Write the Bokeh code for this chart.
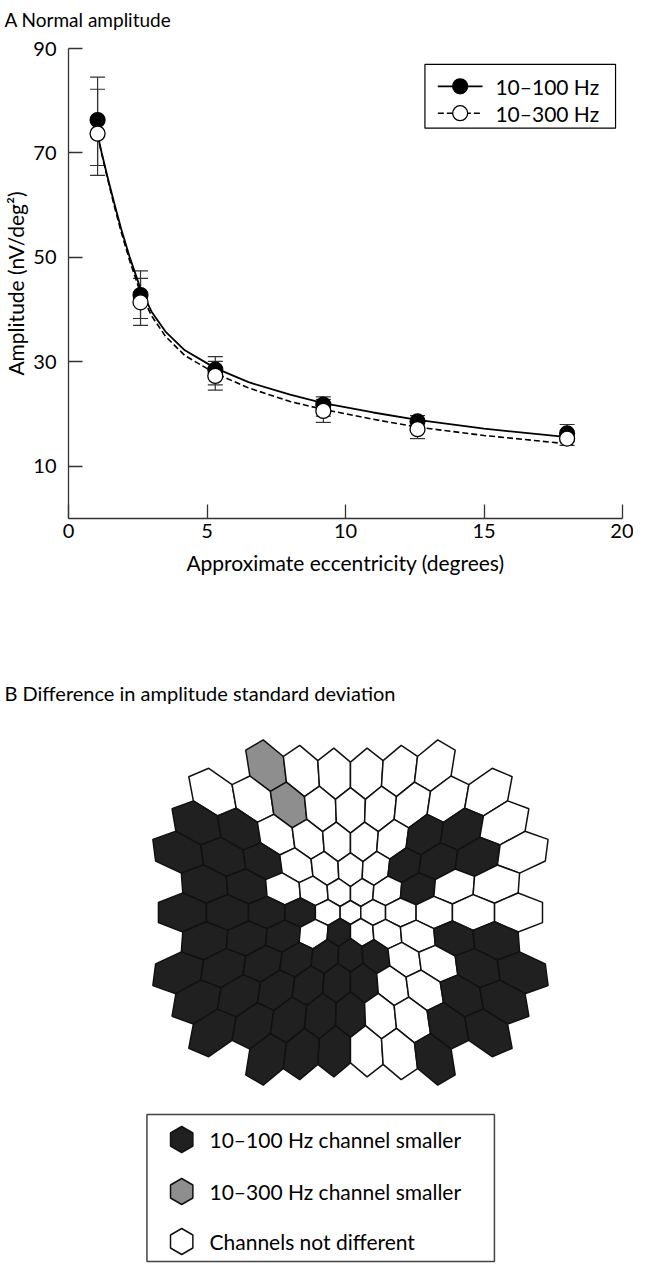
import numpy as np
from bokeh.plotting import figure
from bokeh.models import Range1d, FixedTicker, ColumnDataSource, Title
from bokeh.layouts import column
from bokeh.core.properties import value
from bokeh.embed import file_html
from bokeh.resources import INLINE

FONT = "Lato"

# ---------------- data: panel A ----------------
ecc = [1.05, 2.6, 5.3, 9.2, 12.6, 18.0]
amp_100 = [76.3, 42.8, 28.5, 21.8, 18.6, 16.3]
amp_100_hi = [84.5, 47.4, 31.0, 23.3, 19.7, 18.0]
amp_100_lo = [67.6, 38.3, 25.6, 19.6, 17.5, 14.8]
amp_300 = [73.7, 41.4, 27.3, 20.6, 17.1, 15.3]
amp_300_hi = [82.2, 46.0, 30.1, 22.8, 19.1, 16.8]
amp_300_lo = [65.7, 37.0, 24.6, 18.4, 15.3, 14.0]

fit_ecc = [1.05, 1.2, 1.4, 1.65, 1.9, 2.2, 2.6, 3.0, 3.5, 4.2, 5.3, 6.5, 8.0, 9.2, 11.0, 12.6, 15.0, 18.2]
fit_100 = [73.5, 70.0, 65.6, 60.4, 55.5, 50.2, 44.0, 39.6, 35.8, 32.2, 28.8, 26.1, 23.7, 22.1, 20.3, 18.9, 17.2, 15.5]
fit_300 = [73.3, 69.8, 65.3, 59.9, 54.9, 49.5, 43.2, 38.8, 34.9, 31.2, 27.8, 25.0, 22.4, 20.9, 19.0, 17.5, 15.9, 14.2]

x_ticks = [0, 5, 10, 15, 20]
y_ticks = [10, 30, 50, 70, 90]
series_labels = ["10\u2013100 Hz", "10\u2013300 Hz"]

# ---------------- data: panel B ----------------
hex_row_index = [-5, -4, -3, -2, -1, 0, 1, 2, 3, 4, 5]
hex_row_counts = [6, 9, 10, 11, 10, 11, 10, 11, 10, 9, 6]
hex_row_classes = [
    "GWWWWW",
    "WWGWWWWWW",
    "DDWWWWWDDW",
    "DDDWWWWDDDW",
    "DDWWWWWDWW",
    "DDDDWWWWWWW",
    "DDDWDWWWDD",
    "DDDDDDDWWDD",
    "DDDDDDWWDD",
    "DDDDDWWDD",
    "DDDWWD",
]
class_keys = ["D", "G", "W"]
class_labels = ["10\u2013100 Hz channel smaller", "10\u2013300 Hz channel smaller", "Channels not different"]

# ---------------- styles / layout constants ----------------
CLASS_COLORS = {"D": "#202020", "G": "#8e8e8e", "W": "#ffffff"}
AX = "#333333"
W = 633
H_A, H_B = 632, 632
BL, BR = 64, 11                 # shared left/right borders (frames align in a column)
A_TOP, A_BOT = 46, 114
B_TOP = 77
FW = W - BL - BR                # frame width in px
FH = H_A - A_TOP - A_BOT        # frame height in px
X0, X1, Y0, Y1 = 0, 20, 0, 90


def fx(px):
    return X0 + px * (X1 - X0) / FW


def fy(py):
    return Y1 - py * (Y1 - Y0) / FH


def title(text, size):
    return Title(text=text, align="left", offset=-BL, text_font=FONT, text_font_size=size,
                 text_font_style="normal", text_color="black")


# ================= Panel A =================
pA = figure(width=W, height=H_A, x_range=Range1d(X0, X1), y_range=Range1d(Y0, Y1),
            output_backend="svg", toolbar_location=None,
            min_border_left=BL, min_border_right=BR, min_border_top=A_TOP, min_border_bottom=A_BOT)
pA.outline_line_color = None
pA.xgrid.visible = False
pA.ygrid.visible = False
pA.add_layout(Title(text=" ", text_font_size="1px"), "above")      # small spacer below the title
pA.add_layout(title("A Normal amplitude", "19px"), "above")

pA.xaxis.ticker = FixedTicker(ticks=x_ticks)
pA.yaxis.ticker = FixedTicker(ticks=y_ticks)
pA.xaxis.axis_label = "Approximate eccentricity (degrees)"
pA.yaxis.axis_label = "Amplitude (nV/deg\u00b2)"
for ax in (pA.xaxis[0], pA.yaxis[0]):
    ax.major_tick_in = 14
    ax.major_tick_out = 0
    ax.minor_tick_line_color = None
    ax.axis_line_color = AX
    ax.axis_line_width = 1.3
    ax.major_tick_line_color = AX
    ax.major_tick_line_width = 1.3
    ax.major_label_text_font = FONT
    ax.major_label_text_font_size = "20px"
    ax.major_label_text_color = "black"
    ax.axis_label_text_font = FONT
    ax.axis_label_text_font_size = "21px"
    ax.axis_label_text_font_style = "normal"
    ax.axis_label_text_color = "black"
pA.xaxis.major_label_standoff = 5
pA.xaxis.axis_label_standoff = 9
pA.yaxis.major_label_standoff = 12
pA.yaxis.axis_label_standoff = 2

src100 = ColumnDataSource(dict(x=ecc, y=amp_100, hi=amp_100_hi, lo=amp_100_lo))
src300 = ColumnDataSource(dict(x=ecc, y=amp_300, hi=amp_300_hi, lo=amp_300_lo))
for src in (src100, src300):
    pA.segment(x0="x", y0="lo", x1="x", y1="hi", source=src, line_color=AX, line_width=1.2)
    pA.scatter(x="x", y="hi", source=src, marker="dash", size=15, line_color=AX, line_width=1.2)
    pA.scatter(x="x", y="lo", source=src, marker="dash", size=15, line_color=AX, line_width=1.2)

pA.line(fit_ecc, fit_100, line_color="black", line_width=1.8)
pA.line(fit_ecc, fit_300, line_color="black", line_width=1.6, line_dash="6 3")
pA.scatter(x="x", y="y", source=src100, marker="circle", size=15,
           fill_color="black", line_color="black", line_width=1.2)
pA.scatter(x="x", y="y", source=src300, marker="circle", size=15,
           fill_color="white", line_color="black", line_width=1.3)

# legend (drawn with glyphs so the markers keep their full size)
LEG_BOX = (359, 551, 16, 80)        # px: left, right, top, bottom inside the frame
LEG_ROWS = [38, 65]
LEG_LINE = (372, 417)
LEG_TEXT_X = 430
pA.quad(left=[fx(LEG_BOX[0])], right=[fx(LEG_BOX[1])], top=[fy(LEG_BOX[2])], bottom=[fy(LEG_BOX[3])],
        fill_color="white", line_color="black", line_width=1.2)
leg_fill = ["black", "white"]
leg_dash = ["solid", "6 3"]
for row_py, lab, fc, dash in zip(LEG_ROWS, series_labels, leg_fill, leg_dash):
    pA.line([fx(LEG_LINE[0]), fx(LEG_LINE[1])], [fy(row_py), fy(row_py)], line_color="black",
            line_width=1.6, line_dash=dash)
    pA.scatter([fx((LEG_LINE[0] + LEG_LINE[1]) / 2)], [fy(row_py)], marker="circle", size=15,
               fill_color=fc, line_color="black", line_width=1.3)
    pA.text(x=[fx(LEG_TEXT_X)], y=[fy(row_py)], text=[lab], text_font=value(FONT),
            text_font_size="21px", text_baseline="middle", text_color="black")

# ================= Panel B =================
# data coordinates of panel B are page pixels
pB = figure(width=W, height=H_B, x_range=Range1d(68, 68 + FW), y_range=Range1d(633 + H_B, 633 + B_TOP),
            output_backend="svg", toolbar_location=None,
            min_border_left=BL, min_border_right=BR, min_border_top=B_TOP, min_border_bottom=0,
            x_axis_type=None, y_axis_type=None)
pB.outline_line_color = None
pB.xgrid.visible = False
pB.ygrid.visible = False
pB.add_layout(title("B Difference in amplitude standard deviation", "20px"), "above")

CX, CY = 352.0, 913.0
HEX_A, HEX_B = 11.03, 0.972
ANG = np.deg2rad([90, 150, 210, 270, 330, 30])
SQ3 = np.sqrt(3.0)


def warp(bx, by):
    r = np.hypot(bx, by)
    R = HEX_A * r + HEX_B * r * r
    k = np.where(r > 0, R / np.where(r > 0, r, 1.0), 0.0)
    return CX + bx * k, CY + by * k


hxs, hys, hfill = [], [], []
for row, n, cls in zip(hex_row_index, hex_row_counts, hex_row_classes):
    for i in range(n):
        xd = -(n - 1) + 2 * i
        bx = xd * SQ3 / 2 + np.cos(ANG)
        by = row * 1.5 + np.sin(ANG)
        X, Y = warp(bx, by)
        hxs.append(list(X))
        hys.append(list(Y))
        hfill.append(CLASS_COLORS[cls[i]])

pB.patches(xs="xs", ys="ys", source=ColumnDataSource(dict(xs=hxs, ys=hys, fill=hfill)),
           fill_color="fill", line_color="#111111", line_width=1.5)

pB.quad(left=[147], right=[497], top=[1115], bottom=[1262], fill_color="white",
        line_color="#444444", line_width=1.5)
leg_y = [1140, 1192, 1242]
ixs, iys, ifill = [], [], []
for k, yy in zip(class_keys, leg_y):
    ixs.append(list(182 + 13 * np.cos(ANG)))
    iys.append(list(yy + 13 * np.sin(ANG)))
    ifill.append(CLASS_COLORS[k])
pB.patches(xs="xs", ys="ys", source=ColumnDataSource(dict(xs=ixs, ys=iys, fill=ifill)),
           fill_color="fill", line_color="#111111", line_width=1.5)
pB.text(x=[210, 210, 210], y=leg_y, text=class_labels, text_font=value(FONT),
        text_font_size="21px", text_baseline="middle", text_color="black")

layout = column(pA, pB)
open("out.html", "w").write(file_html(layout, INLINE))
